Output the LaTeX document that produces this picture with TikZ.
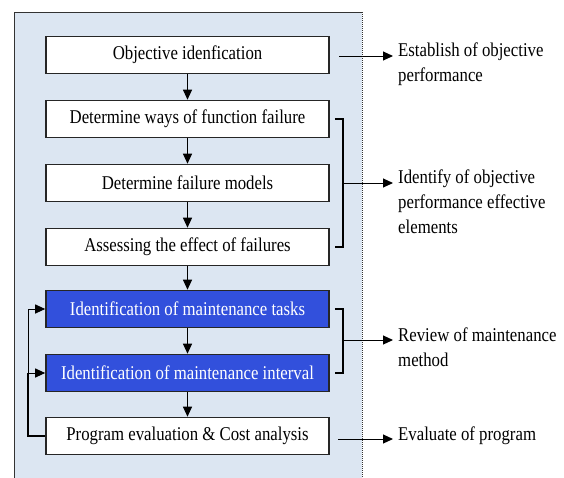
\documentclass[tikz,border=0pt]{standalone}
\usepackage{fontspec}
\setmainfont{Liberation Serif}[FakeStretch=0.86]
\usepackage{xcolor}
\usetikzlibrary{arrows.meta}
\definecolor{panelblue}{RGB}{220,230,242}
\definecolor{taskblue}{RGB}{50,80,220}
\tikzset{
  stepbox/.style={draw=black!85,line width=1.6pt,fill=white,minimum width=283pt,minimum height=37pt,inner sep=0pt,font=\fontsize{19.5}{21}\selectfont},
  bluebox/.style={stepbox,fill=taskblue,text=white},
  note/.style={anchor=north west,align=left,inner sep=0pt,font=\fontsize{19.5}{25}\selectfont},
  flow/.style={-{Triangle[length=10pt,width=9pt]},line width=1pt},
  brace/.style={line width=1.2pt}
}
\begin{document}
\begin{tikzpicture}[x=1pt,y=-1pt]
        % page and panel
        \useasboundingbox (0,0) rectangle (564,477);
        \fill[panelblue] (14,12) rectangle (362,480);
        \draw[line width=1pt,black!80] (14,480) -- (14,12) -- (362,12);
        \draw[line width=1pt,black!80,densely dotted] (362,12) -- (362,480);
        % steps
        \node[stepbox] (obj) at (187.5,55) {Objective idenfication};
        \node[stepbox] (ways) at (187.5,119) {Determine ways of function failure};
        \node[stepbox] (models) at (187.5,183) {Determine failure models};
        \node[stepbox] (effect) at (187.5,247) {Assessing the effect of failures};
        \node[bluebox] (tasks) at (187.5,309) {Identification of maintenance tasks};
        \node[bluebox] (interval) at (187.5,373) {Identification of maintenance interval};
        \node[stepbox] (eval) at (187.5,436) {Program evaluation \& Cost analysis};
        \draw[flow] (obj) -- (ways);
        \draw[flow] (ways) -- (models);
        \draw[flow] (models) -- (effect);
        \draw[flow] (effect) -- (tasks);
        \draw[flow] (tasks) -- (interval);
        \draw[flow] (interval) -- (eval);
        % feedback loop
        \coordinate (back) at (28,436);
        \coordinate (split) at (28,373);
        \draw[line width=1.2pt] (eval.west) -- (back) -- (split);
        \draw[flow] (split) |- (tasks.west);
        \draw[flow] (split) -- (interval.west);
        % notes on the right
        \node[note] (est) at (398,43) {Establish of objective\\performance};
        \node[note] (ident) at (398,170) {Identify of objective\\performance effective\\elements};
        \node[note] (review) at (398,328) {Review of maintenance\\method};
        \node[note] (evalnote) at (398,427) {Evaluate of program};
        % brackets
        \coordinate (oa) at (339,56);
        \coordinate (bra) at (343,183);
        \coordinate (brb) at (343,340);
        \coordinate (ev) at (338,439);
        \draw[brace] (ways.east) ++(5,0) -- (343,119) -- (343,247) -- ([xshift=5pt]effect.east);
        \draw[brace] (tasks.east) ++(5,0) -- (343,309) -- (343,373) -- ([xshift=5pt]interval.east);
        % arrows to notes
        \draw[flow] (oa) -- ([xshift=-5pt]est.west |- oa);
        \draw[flow] (bra) -- ([xshift=-5pt]ident.west |- bra);
        \draw[flow] (brb) -- ([xshift=-5pt]review.west |- brb);
        \draw[flow] (ev) -- ([xshift=-5pt]evalnote.west |- ev);
    \end{tikzpicture}
\end{document}
